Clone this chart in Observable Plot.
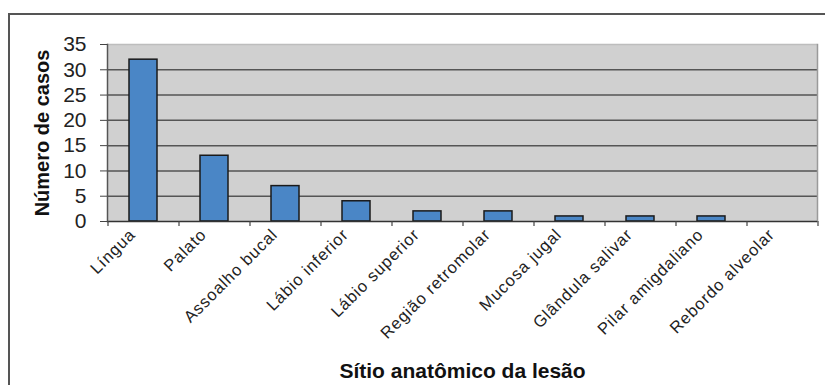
<!DOCTYPE html>
<html>
<head>
<meta charset="utf-8">
<script src="https://cdn.jsdelivr.net/npm/d3@7"></script>
<script src="https://cdn.jsdelivr.net/npm/@observablehq/plot@0.6"></script>
<style>
  html, body { margin: 0; padding: 0; background: #fff; }
  #wrap { position: relative; width: 825px; height: 385px; overflow: hidden; }
  #box { position: absolute; left: 8px; top: 13px; width: 900px; height: 500px;
         border-left: 2px solid #555; border-top: 2px solid #555; }
  #chart { position: absolute; left: 0; top: 0; }
  svg { font-family: "Liberation Sans", Arial, sans-serif; }
</style>
</head>
<body>
<div id="wrap"><div id="box"></div><div id="chart"></div></div>
<script>
// Sites of the lesion and number of cases at each
const sites = ["Língua", "Palato", "Assoalho bucal", "Lábio inferior", "Lábio superior",
  "Região retromolar", "Mucosa jugal", "Glândula salivar", "Pilar amigdaliano", "Rebordo alveolar"];
const cases = [32, 13, 7, 4, 2, 2, 1, 1, 1, 0];
const yTicks = [0, 5, 10, 15, 20, 25, 30, 35];
const xTitle = "Sítio anatômico da lesão";
const yTitle = "Número de casos";

const data = sites.map((s, i) => ({site: s, n: cases[i]}));

const W = 825, H = 385, mL = 107, mR = 8, mT = 44, mB = 164;
const half = (W - mL - mR) / sites.length / 2;

const chart = Plot.plot({
  width: W, height: H,
  marginLeft: mL, marginRight: mR, marginTop: mT, marginBottom: mB,
  style: {fontFamily: "Liberation Sans, Arial, sans-serif", background: "transparent", overflow: "visible"},
  x: {type: "band", domain: sites, paddingInner: 0.61, paddingOuter: 0.305, align: 0.5, axis: null},
  y: {type: "linear", domain: [0, 35], axis: null},
  marks: [
    Plot.frame({fill: "#d0d0d0", stroke: null}),
    Plot.ruleY(yTicks.slice(1, -1), {stroke: "#555", strokeWidth: 1.5}),
    Plot.ruleY([35], {stroke: "#bdbdbd", strokeWidth: 1.5}),
    Plot.frame({anchor: "right", stroke: "#9a9a9a", strokeWidth: 1.5}),
    Plot.barY(data, {x: "site", y: "n", fill: "#4a86c6", stroke: "#1a1a1a", strokeWidth: 1.5}),
    Plot.ruleY([0], {stroke: "#333", strokeWidth: 1.5}),
    Plot.frame({anchor: "left", stroke: "#555", strokeWidth: 1.5}),
    // tick marks below the zero line at the category boundaries
    Plot.ruleX(sites, {x: d => d, dx: -half, y1: 0, y2: 0, insetTop: 5, stroke: "#444", strokeWidth: 1.2}),
    Plot.ruleX(sites.slice(-1), {x: d => d, dx: half, y1: 0, y2: 0, insetTop: 5, stroke: "#444", strokeWidth: 1.2}),
    Plot.axisY({ticks: yTicks, tickSize: 7, tickPadding: 14, fontSize: 21, label: null, stroke: "#444", fill: "#222"}),
    Plot.text(sites, {x: d => d, frameAnchor: "bottom", rotate: -45, textAnchor: "end",
      dx: -7, dy: 14, fontSize: 16.5, fill: "#222"}),
    Plot.text([yTitle], {frameAnchor: "left", dx: -65, rotate: -90, textAnchor: "middle",
      fontSize: 20, fontWeight: "bold", fill: "#111"}),
    Plot.text([xTitle], {frameAnchor: "bottom", dy: 156, fontSize: 21, fontWeight: "bold", fill: "#111"})
  ]
});

// slight letter spacing on the rotated category labels
d3.select(chart).selectAll("g[aria-label='text'] text").filter(function() {
  return sites.includes(this.textContent);
}).style("letter-spacing", "0.9px");

document.getElementById("chart").appendChild(chart);
</script>
</body>
</html>
